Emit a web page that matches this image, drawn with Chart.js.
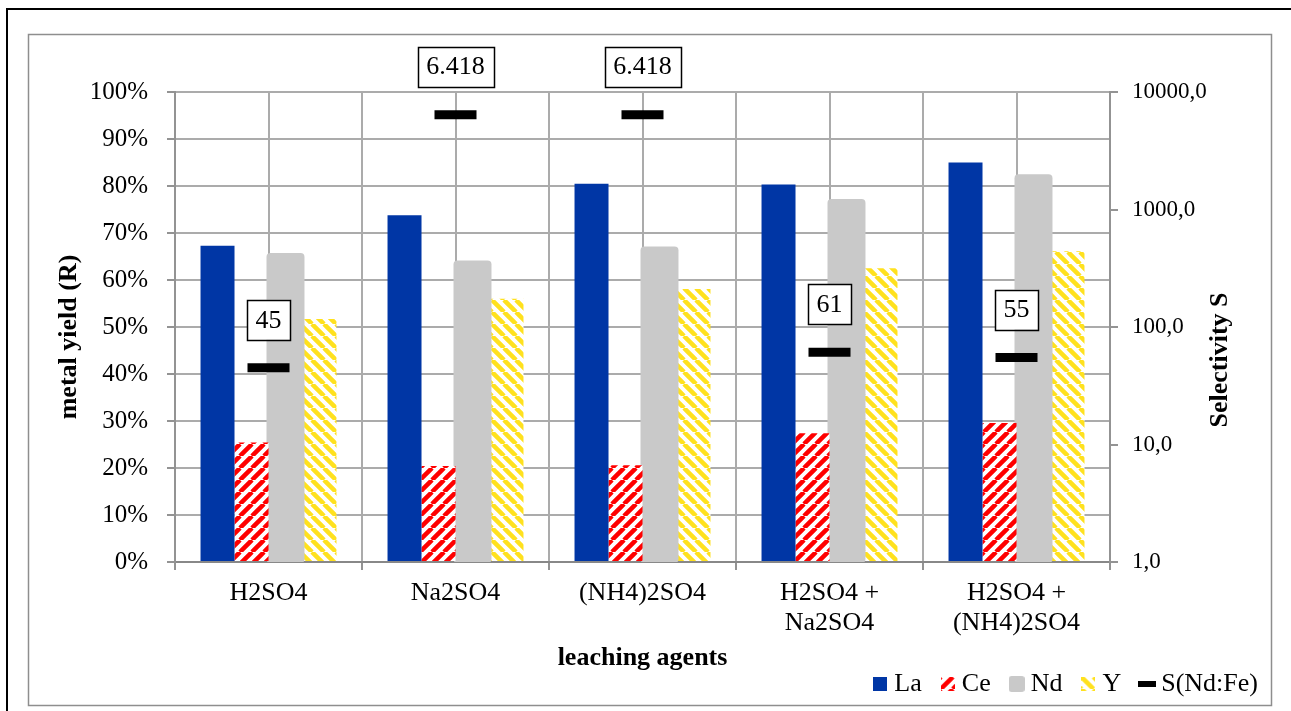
<!DOCTYPE html>
<html>
<head>
<meta charset="utf-8">
<script src="https://cdn.jsdelivr.net/npm/chart.js@4/dist/chart.umd.min.js"></script>
<style>
  html, body { margin: 0; padding: 0; background: #fff; }
  canvas { display: block; }
</style>
</head>
<body>
<canvas id="chart" width="1291" height="711"></canvas>
<script>
// Leaching agents (x categories)
const categories = ['H2SO4', 'Na2SO4', '(NH4)2SO4', ['H2SO4 +', 'Na2SO4'], ['H2SO4 +', '(NH4)2SO4']];

// Metal yield R in %
const yieldLa = [67.3, 73.8, 80.5, 80.3, 85.0];
const yieldCe = [25.4, 20.4, 20.6, 27.4, 29.6];
const yieldNd = [65.3, 63.7, 66.7, 76.8, 82.1];
const yieldY  = [51.7, 56.0, 58.1, 62.5, 66.1];

// Selectivity S(Nd:Fe), log axis
const selectivityNdFe = [45, 6418, 6418, 61, 55];

// Axis tick values
const yieldTicks = [0, 10, 20, 30, 40, 50, 60, 70, 80, 90, 100];
const selectivityTicks = [1, 10, 100, 1000, 10000];

const SERIF = '"Liberation Serif", "Times New Roman", serif';
const GRID = '#ABABAB';
const AXIS = '#939393';
const BLUE = '#0036A5';
const RED = '#FF0000';
const GREY = '#C9C9C9';
const YELLOW = '#FFE11E';

function stripePattern(color, dir, size, lw) {
  const c = document.createElement('canvas');
  c.width = size; c.height = size;
  const g = c.getContext('2d');
  g.fillStyle = '#fff';
  g.fillRect(0, 0, size, size);
  g.strokeStyle = color;
  g.lineWidth = lw;
  g.beginPath();
  for (let k = -1; k <= 1; k++) {
    if (dir === 'up') {
      g.moveTo(k * size, size); g.lineTo(k * size + size, 0);
    } else {
      g.moveTo(k * size, 0); g.lineTo(k * size + size, size);
    }
  }
  g.stroke();
  return g.createPattern(c, 'repeat');
}

const ctx = document.getElementById('chart').getContext('2d');
const cePattern = stripePattern(RED, 'up', 12, 4.5);
const yPattern = stripePattern(YELLOW, 'down', 12, 4.5);

function icon(w, h, paint) {
  const c = document.createElement('canvas');
  c.width = w; c.height = h;
  paint(c.getContext('2d'), w, h);
  return c;
}
const legendIcons = [
  icon(14, 14, (g, w, h) => { g.fillStyle = BLUE; g.fillRect(0, 0, w, h); }),
  icon(14, 14, (g, w, h) => { g.fillStyle = stripePattern(RED, 'up', 12, 4.5); g.fillRect(0, 0, w, h); }),
  icon(16, 16, (g, w, h) => { g.fillStyle = GREY; g.beginPath(); g.roundRect(0, 0, w, h, 3); g.fill(); }),
  icon(14, 14, (g, w, h) => { g.fillStyle = stripePattern(YELLOW, 'down', 12, 4.5); g.fillRect(0, 0, w, h); }),
  icon(18, 6, (g, w, h) => { g.fillStyle = '#000'; g.fillRect(0, 0, w, h); })
];

function thousands(v) {
  return String(Math.round(v)).replace(/\B(?=(\d{3})+(?!\d))/g, '.');
}

// Outer frame and inner chart border
const framePlugin = {
  id: 'frame',
  beforeDraw(chart) {
    const c = chart.ctx;
    c.save();
    c.fillStyle = '#fff';
    c.fillRect(0, 0, chart.width, chart.height);
    c.strokeStyle = '#000';
    c.lineWidth = 2;
    c.strokeRect(7, 9, chart.width + 20, chart.height + 20);
    c.strokeStyle = '#8E8E8E';
    c.lineWidth = 1.5;
    c.strokeRect(28.5, 34.5, 1243, 671);
    c.restore();
  }
};

// Axis titles
const titlesPlugin = {
  id: 'axisTitles',
  afterDraw(chart) {
    const c = chart.ctx;
    const area = chart.chartArea;
    c.save();
    c.fillStyle = '#000';
    c.font = 'bold 26px ' + SERIF;
    c.textAlign = 'center';
    c.textBaseline = 'middle';
    c.fillText('leaching agents', (area.left + area.right) / 2, 658);
    c.save();
    c.translate(69, 337);
    c.rotate(-Math.PI / 2);
    c.fillText('metal yield (R)', 0, 0);
    c.restore();
    c.save();
    c.translate(1220, 360);
    c.rotate(-Math.PI / 2);
    c.fillText('Selectivity S', 0, 0);
    c.restore();
    c.restore();
  }
};

// Boxed value labels above the selectivity markers
const valueLabelPlugin = {
  id: 'valueLabels',
  afterDatasetsDraw(chart) {
    const c = chart.ctx;
    const idx = chart.data.datasets.findIndex(d => d.label === 'S(Nd:Fe)');
    const meta = chart.getDatasetMeta(idx);
    const values = chart.data.datasets[idx].data;
    c.save();
    c.font = '26px ' + SERIF;
    c.textAlign = 'center';
    c.textBaseline = 'middle';
    meta.data.forEach((pt, i) => {
      const text = thousands(values[i]);
      const w = c.measureText(text).width + 17;
      const h = 40;
      const cx = pt.x, cy = pt.y - 48;
      c.fillStyle = '#fff';
      c.fillRect(cx - w / 2, cy - h / 2, w, h);
      c.strokeStyle = '#000';
      c.lineWidth = 1.5;
      c.strokeRect(Math.round(cx - w / 2) + 0.5, Math.round(cy - h / 2) + 0.5, Math.round(w), h);
      c.fillStyle = '#000';
      c.fillText(text, cx, cy + 1);
    });
    c.restore();
  }
};

new Chart(ctx, {
  data: {
    labels: categories,
    datasets: [
      { type: 'bar', label: 'La', data: yieldLa, backgroundColor: BLUE, yAxisID: 'y' },
      { type: 'bar', label: 'Ce', data: yieldCe, backgroundColor: cePattern, yAxisID: 'y' },
      { type: 'bar', label: 'Nd', data: yieldNd, backgroundColor: GREY, yAxisID: 'y',
        borderRadius: 4, borderSkipped: false, inflateAmount: 2 },
      { type: 'bar', label: 'Y', data: yieldY, backgroundColor: yPattern, yAxisID: 'y' },
      { type: 'line', label: 'S(Nd:Fe)', data: selectivityNdFe, yAxisID: 'y2', order: -1,
        showLine: false, pointStyle: 'line', pointRadius: 21, pointHoverRadius: 21,
        pointBorderWidth: 9, pointBorderColor: '#000', pointBackgroundColor: '#000' }
    ]
  },
  options: {
    responsive: false,
    devicePixelRatio: 1,
    animation: false,
    events: [],
    layout: { padding: { top: 92, left: 0, right: 8, bottom: 4 } },
    datasets: { bar: { categoryPercentage: 0.727, barPercentage: 1.0 } },
    plugins: {
      tooltip: { enabled: false },
      legend: {
        position: 'bottom',
        align: 'end',
        labels: {
          usePointStyle: true,
          pointStyleWidth: 2,
          padding: 25,
          color: '#000',
          font: { family: SERIF, size: 26 },
          generateLabels: chart => chart.data.datasets.map((ds, i) => ({
            text: ds.label, pointStyle: legendIcons[i], datasetIndex: i,
            hidden: false, fillStyle: '#000', strokeStyle: '#000', lineWidth: 0, fontColor: '#000'
          }))
        }
      }
    },
    scales: {
      x: {
        type: 'category',
        position: 'bottom',
        offset: true,
        grid: { offset: true, color: GRID, lineWidth: 2, tickLength: 8, tickColor: AXIS },
        border: { display: true, color: '#888', width: 2 },
        ticks: { color: '#000', font: { family: SERIF, size: 26, lineHeight: 1.15 },
                 padding: 8, maxRotation: 0, autoSkip: false },
        afterFit: s => { s.height = 84; }
      },
      x2: {
        type: 'category',
        position: 'bottom',
        offset: true,
        grid: { offset: false, color: GRID, lineWidth: 2, drawTicks: false },
        border: { display: false },
        ticks: { display: false },
        afterFit: s => { s.height = 0; }
      },
      y: {
        position: 'left',
        min: 0,
        max: 100,
        afterBuildTicks: s => { s.ticks = yieldTicks.map(v => ({ value: v })); },
        grid: { color: GRID, lineWidth: 2, tickLength: 8, tickColor: AXIS },
        border: { color: AXIS, width: 2 },
        ticks: { color: '#000', font: { family: SERIF, size: 25 }, padding: 19,
                 callback: v => v + '%' },
        afterFit: s => { s.width = 175; }
      },
      y2: {
        type: 'logarithmic',
        position: 'right',
        min: 1,
        max: 10000,
        afterBuildTicks: s => { s.ticks = selectivityTicks.map(v => ({ value: v })); },
        grid: { drawOnChartArea: false, color: AXIS, lineWidth: 2, tickLength: 8 },
        border: { color: AXIS, width: 2 },
        ticks: { color: '#000', font: { family: SERIF, size: 23 }, padding: 14,
                 callback: v => Number(v).toFixed(1).replace('.', ',') },
        afterFit: s => { s.width = 173; }
      }
    }
  },
  plugins: [framePlugin, titlesPlugin, valueLabelPlugin]
});
</script>
</body>
</html>
